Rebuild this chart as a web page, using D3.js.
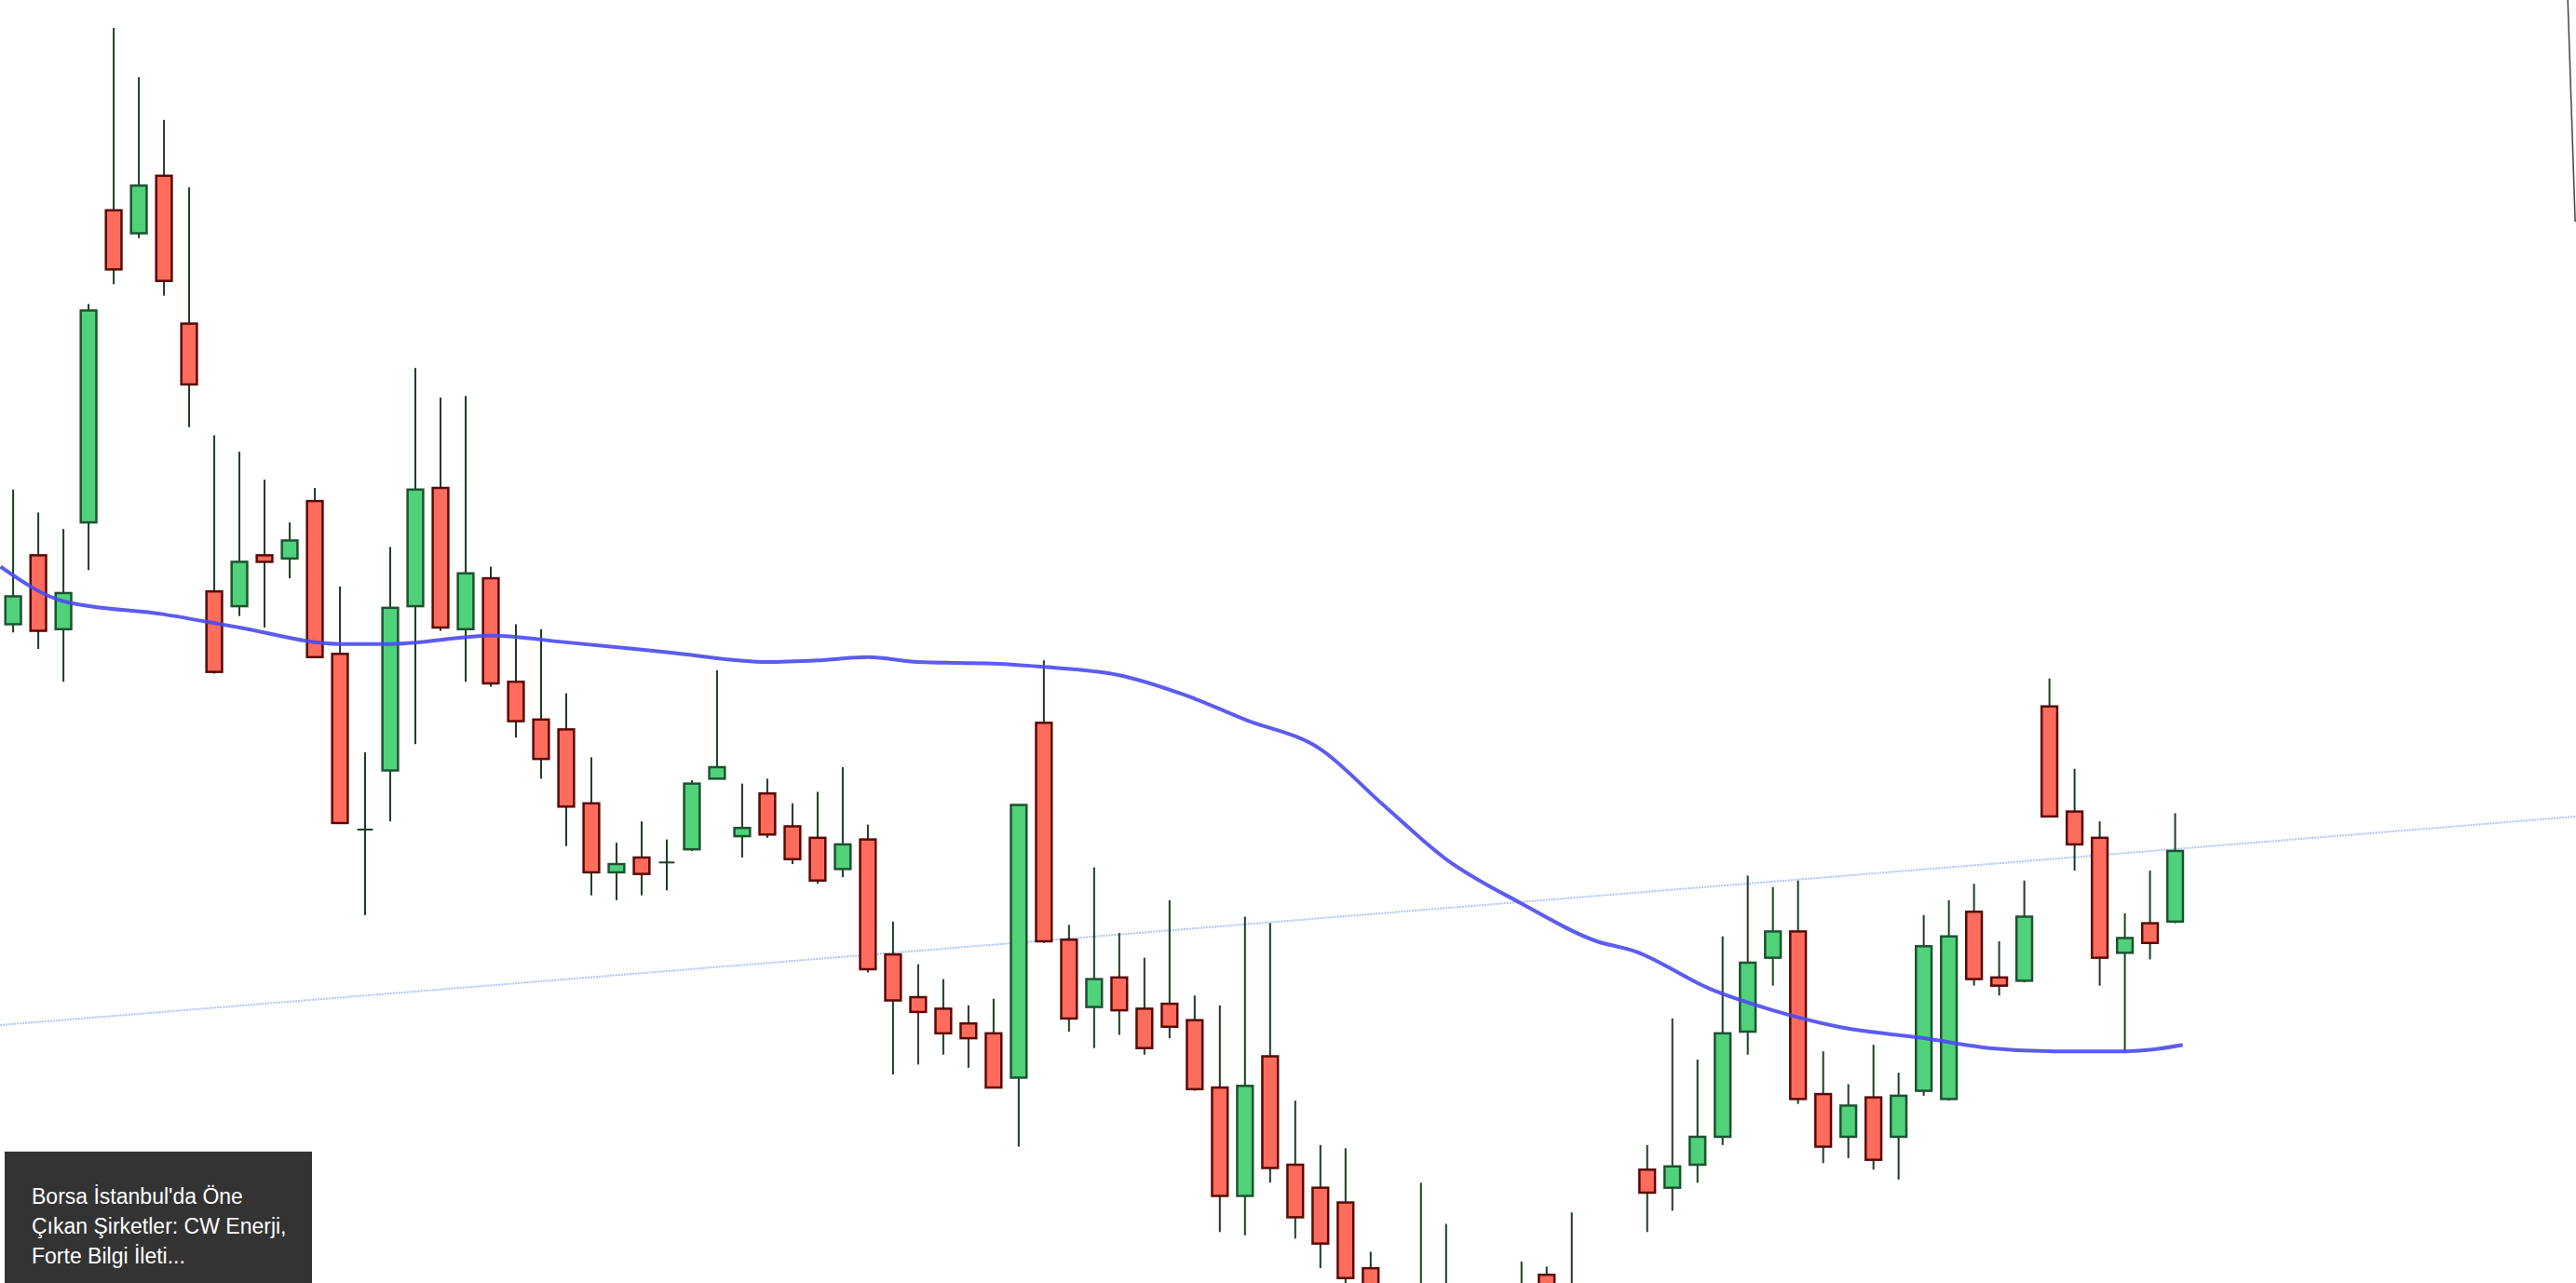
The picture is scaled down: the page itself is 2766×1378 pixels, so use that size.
<!DOCTYPE html>
<html><head><meta charset="utf-8">
<script src="https://cdn.jsdelivr.net/npm/d3@7"></script>
<style>body{margin:0;background:#fff;overflow:hidden}svg{display:block}</style>
</head><body><svg id="c" width="2766" height="1378"></svg>
<script>
// Values are chart-level readings (level units, larger = lower on the chart)
const opens  = [380,338,383,318,128,142,107,197,360,369,338,340,305,398,505,469,369,297,383,352,415,438,444,489,531,522,525,517,474,509,483,503,510,529,511,581,607,614,623,629,656,440,572,613,595,614,611,621,662,728,643,709,723,732,772,790,790,790,790,790,790,776,790,790,790,712,723,709,692,628,583,567,666,692,668,692,664,669,555,595,597,430,494,510,580,562,561];
const closes = [363,384,361,189,164,113,171,234,409,342,342,329,400,501,505,370,298,382,349,416,439,462,491,531,526,532,525,477,467,504,508,523,536,514,590,609,616,629,632,662,490,573,620,596,615,638,625,663,728,661,711,741,757,778,790,790,790,790,790,790,790,785,790,790,790,726,710,692,629,586,567,669,698,673,706,667,576,570,596,600,558,497,514,583,571,574,518];
const highs  = [298,312,322,185,17,47,73,114,265,275,292,318,297,357,458,333,224,242,241,345,380,383,422,461,513,500,511,475,408,477,474,489,482,467,502,561,587,596,612,608,490,402,563,528,568,583,548,606,612,558,562,670,697,699,762,790,720,745,790,790,768,771,738,790,790,697,620,645,570,533,540,536,640,660,636,653,557,548,538,573,536,413,468,500,556,530,495];
const lows   = [385,395,415,347,173,145,180,260,410,375,382,352,400,501,557,500,453,384,415,418,449,474,515,545,548,545,542,518,474,522,510,526,538,534,592,654,648,642,650,662,698,574,628,638,630,642,632,664,750,752,720,754,772,781,790,790,790,790,790,790,790,790,790,790,790,750,737,720,697,642,600,672,708,705,712,718,667,670,600,606,598,497,530,600,640,584,562];
const maIdx  = [-0.5,2,6,9,13,15,19,22,26,30,32,34,36,39,41,44,46.6,49,52,54.5,57,60,63,64.5,67.5,70,72.6,76,78.6,81.2,83.8,85,86.3];
const maVal  = [345,366,374,382,392,392,387,391,397,403,402,400,403,404,406,411,423,438,456,490,523,550,573,579,602,615,625,632,638,640,640,639,636];
const trendIdx = [-0.52, 102];
const trendVal = [624, 497];
const caption = ["Borsa İstanbul'da Öne", "Çıkan Şirketler: CW Enerji,", "Forte Bilgi İleti..."];

const W=2766,H=1378,k=W/1568;
const svg=d3.select("#c");
const x=d3.scaleLinear().domain([0,86]).range([8*k,1324*k]);
const y=d3.scaleLinear().domain([0,781]).range([0,H]);
const bw=9.5*k;

// trend line
svg.append("line").attr("x1",x(trendIdx[0])).attr("y1",y(trendVal[0])).attr("x2",x(trendIdx[1])).attr("y2",y(trendVal[1]))
 .attr("stroke","#9db8f5").attr("stroke-width",2).attr("stroke-dasharray","2,1").attr("opacity",0.8);
svg.append("line").attr("x1",1563*k).attr("y1",0).attr("x2",1567.5*k).attr("y2",y(135)).attr("stroke","#444").attr("stroke-width",1.5);

const data=opens.map((o,i)=>({i,o,c:closes[i],h:highs[i],l:lows[i]}));
const g=svg.append("g");
data.forEach(d=>{
  const up=d.c<d.o;
  g.append("line").attr("x1",x(d.i)).attr("x2",x(d.i)).attr("y1",y(d.h)).attr("y2",y(d.l)).attr("stroke","#1c3d25").attr("stroke-width",2);
  const t=Math.min(d.o,d.c),b=Math.max(d.o,d.c);
  if(b-t<0.5){
    g.append("line").attr("x1",x(d.i)-bw/2).attr("x2",x(d.i)+bw/2).attr("y1",y(t)).attr("y2",y(t)).attr("stroke","#1c3d25").attr("stroke-width",2);
  } else {
    g.append("rect").attr("x",x(d.i)-bw/2).attr("width",bw).attr("y",y(t)).attr("height",y(b)-y(t))
     .attr("fill",up?"#4fd27a":"#fd6c5c").attr("stroke",up?"#1e5232":"#5a0a05").attr("stroke-width",2.5);
  }
});

// moving average
const ma=maIdx.map((v,i)=>[v,maVal[i]]);
svg.append("path").attr("d",d3.line().x(d=>x(d[0])).y(d=>y(d[1])).curve(d3.curveMonotoneX)(ma))
 .attr("fill","none").attr("stroke","#4a4af0").attr("stroke-width",4).attr("opacity",0.9);

// caption box
svg.append("rect").attr("x",5).attr("y",y(701)).attr("width",330).attr("height",H-y(701)).attr("fill","#333");
svg.append("g").selectAll("text").data(caption).join("text")
 .attr("x",34).attr("y",(d,i)=>y(733)+i*y(18)).attr("fill","#fff")
 .attr("font-family","Liberation Sans, Arial, sans-serif").attr("font-size",23).text(d=>d);
</script></body></html>
